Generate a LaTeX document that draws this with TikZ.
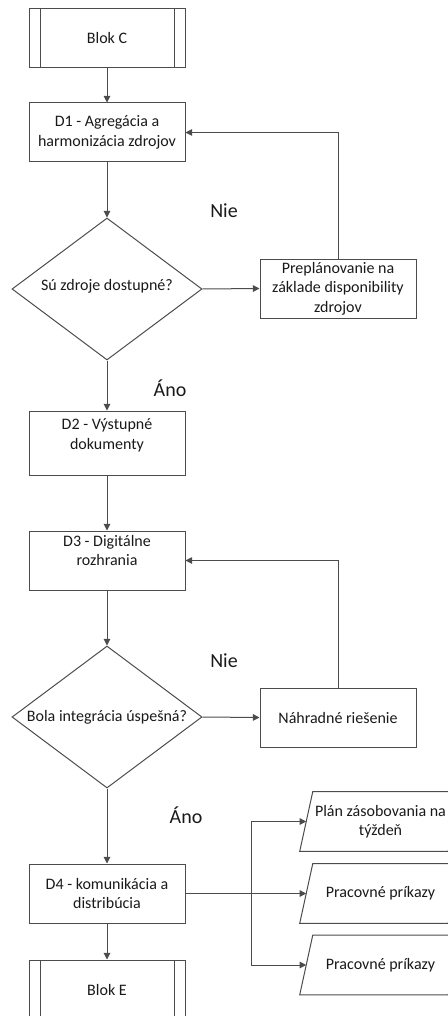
\documentclass[tikz,border=0pt]{standalone}
\usepackage{fontspec}
\setmainfont{Carlito}
\usetikzlibrary{shapes.geometric,arrows.meta,calc}
\newcommand\paragram[1]{\draw[ln] ($(#1.south west)+(-6.5,0)$) -- ($(#1.south east)+(-6.5,0)$) -- ($(#1.north east)+(6.5,0)$) -- ($(#1.north west)+(6.5,0)$) -- cycle;}
\newcommand\blokbars[1]{\draw[ln] ($(#1.north west)+(11.5,0)$) -- ($(#1.south west)+(11.5,0)$); \draw[ln] ($(#1.north east)+(-11.5,0)$) -- ($(#1.south east)+(-11.5,0)$);}
\begin{document}
\begin{tikzpicture}[x=0.75pt,y=-0.75pt,
  every node/.style={font=\fontsize{12}{14.6}\selectfont, text=black!90},
  ln/.style={draw=black!70, line width=0.75pt},
  arr/.style={ln, -{Triangle[length=5pt,width=5pt]}},
  box/.style={rectangle, ln, minimum width=117pt, minimum height=44.25pt, inner sep=2pt, align=center},
  dia/.style={diamond, ln, minimum width=142.5pt, minimum height=106.5pt, inner sep=0pt, aspect=1.34, align=center},
  pbox/.style={rectangle, minimum width=111pt, minimum height=44.25pt, inner sep=0pt, align=center},
  big/.style={font=\fontsize{15}{18}\selectfont}
]
\useasboundingbox (0,0) rectangle (448,1016);

\node[box] (bc) at (107,38.5) {Blok C};
\blokbars{bc}
\node[box] (d1) at (107,132.5) {D1 - Agregácia a\\harmonizácia zdrojov};
\node[dia] (q1) at (107,289) {\raisebox{6pt}{Sú zdroje dostupné?}};
\node[box] (r1) at (338,288.5) {Preplánovanie na\\základe disponibility\\zdrojov};
\node[box, minimum height=48pt, label={[align=center,yshift=5.6pt]center:D2 - Výstupné\\dokumenty}] (d2) at (107,443) {};
\node[box, label={[align=center,yshift=7.5pt]center:D3 - Digitálne\\rozhrania}] (d3) at (107,560.5) {};
\node[dia] (q2) at (107,717) {Bola integrácia úspešná?};
\node[box] (n1) at (338,717.5) {Náhradné riešenie};
\node[box] (d4) at (107,893.5) {D4 - komunikácia a\\distribúcia};
\node[box] (be) at (107,989.5) {Blok E};
\blokbars{be}

\node[pbox] (p1) at (380.5,821.5) {Plán zásobovania na\\týždeň};
\paragram{p1}
\node[pbox] (p2) at (380.5,893.5) {Pracovné príkazy};
\paragram{p2}
\node[pbox] (p3) at (380.5,965) {Pracovné príkazy};
\paragram{p3}

\node[big] (nie1) at (224,211) {Nie};
\node[big] (ano1) at (170,388) {Áno};
\node[big] (nie2) at (224,661) {Nie};
\node[big] (ano2) at (186,815) {Áno};

\draw[arr] (bc.south) -- (d1.north);
\draw[arr] (d1.south) -- (q1.north);
\draw[arr] (q1.east) -- (r1.west);
\draw[arr] (r1.north) |- (d1.east);
\draw[arr] (q1.south) -- (d2.north);
\draw[arr] (d2.south) -- (d3.north);
\draw[arr] (d3.south) -- (q2.north);
\draw[arr] (q2.east) -- (n1.west);
\draw[arr] (n1.north) |- (d3.east);
\draw[arr] (q2.south) -- (d4.north);
\draw[arr] (d4.south) -- (be.north);
\draw[arr] (d4.east) -- (p2.west);
\coordinate (br) at (251,893.5);
\draw[arr] (br) |- (p1.west);
\draw[arr] (br) |- (p3.west);
\end{tikzpicture}
\end{document}
